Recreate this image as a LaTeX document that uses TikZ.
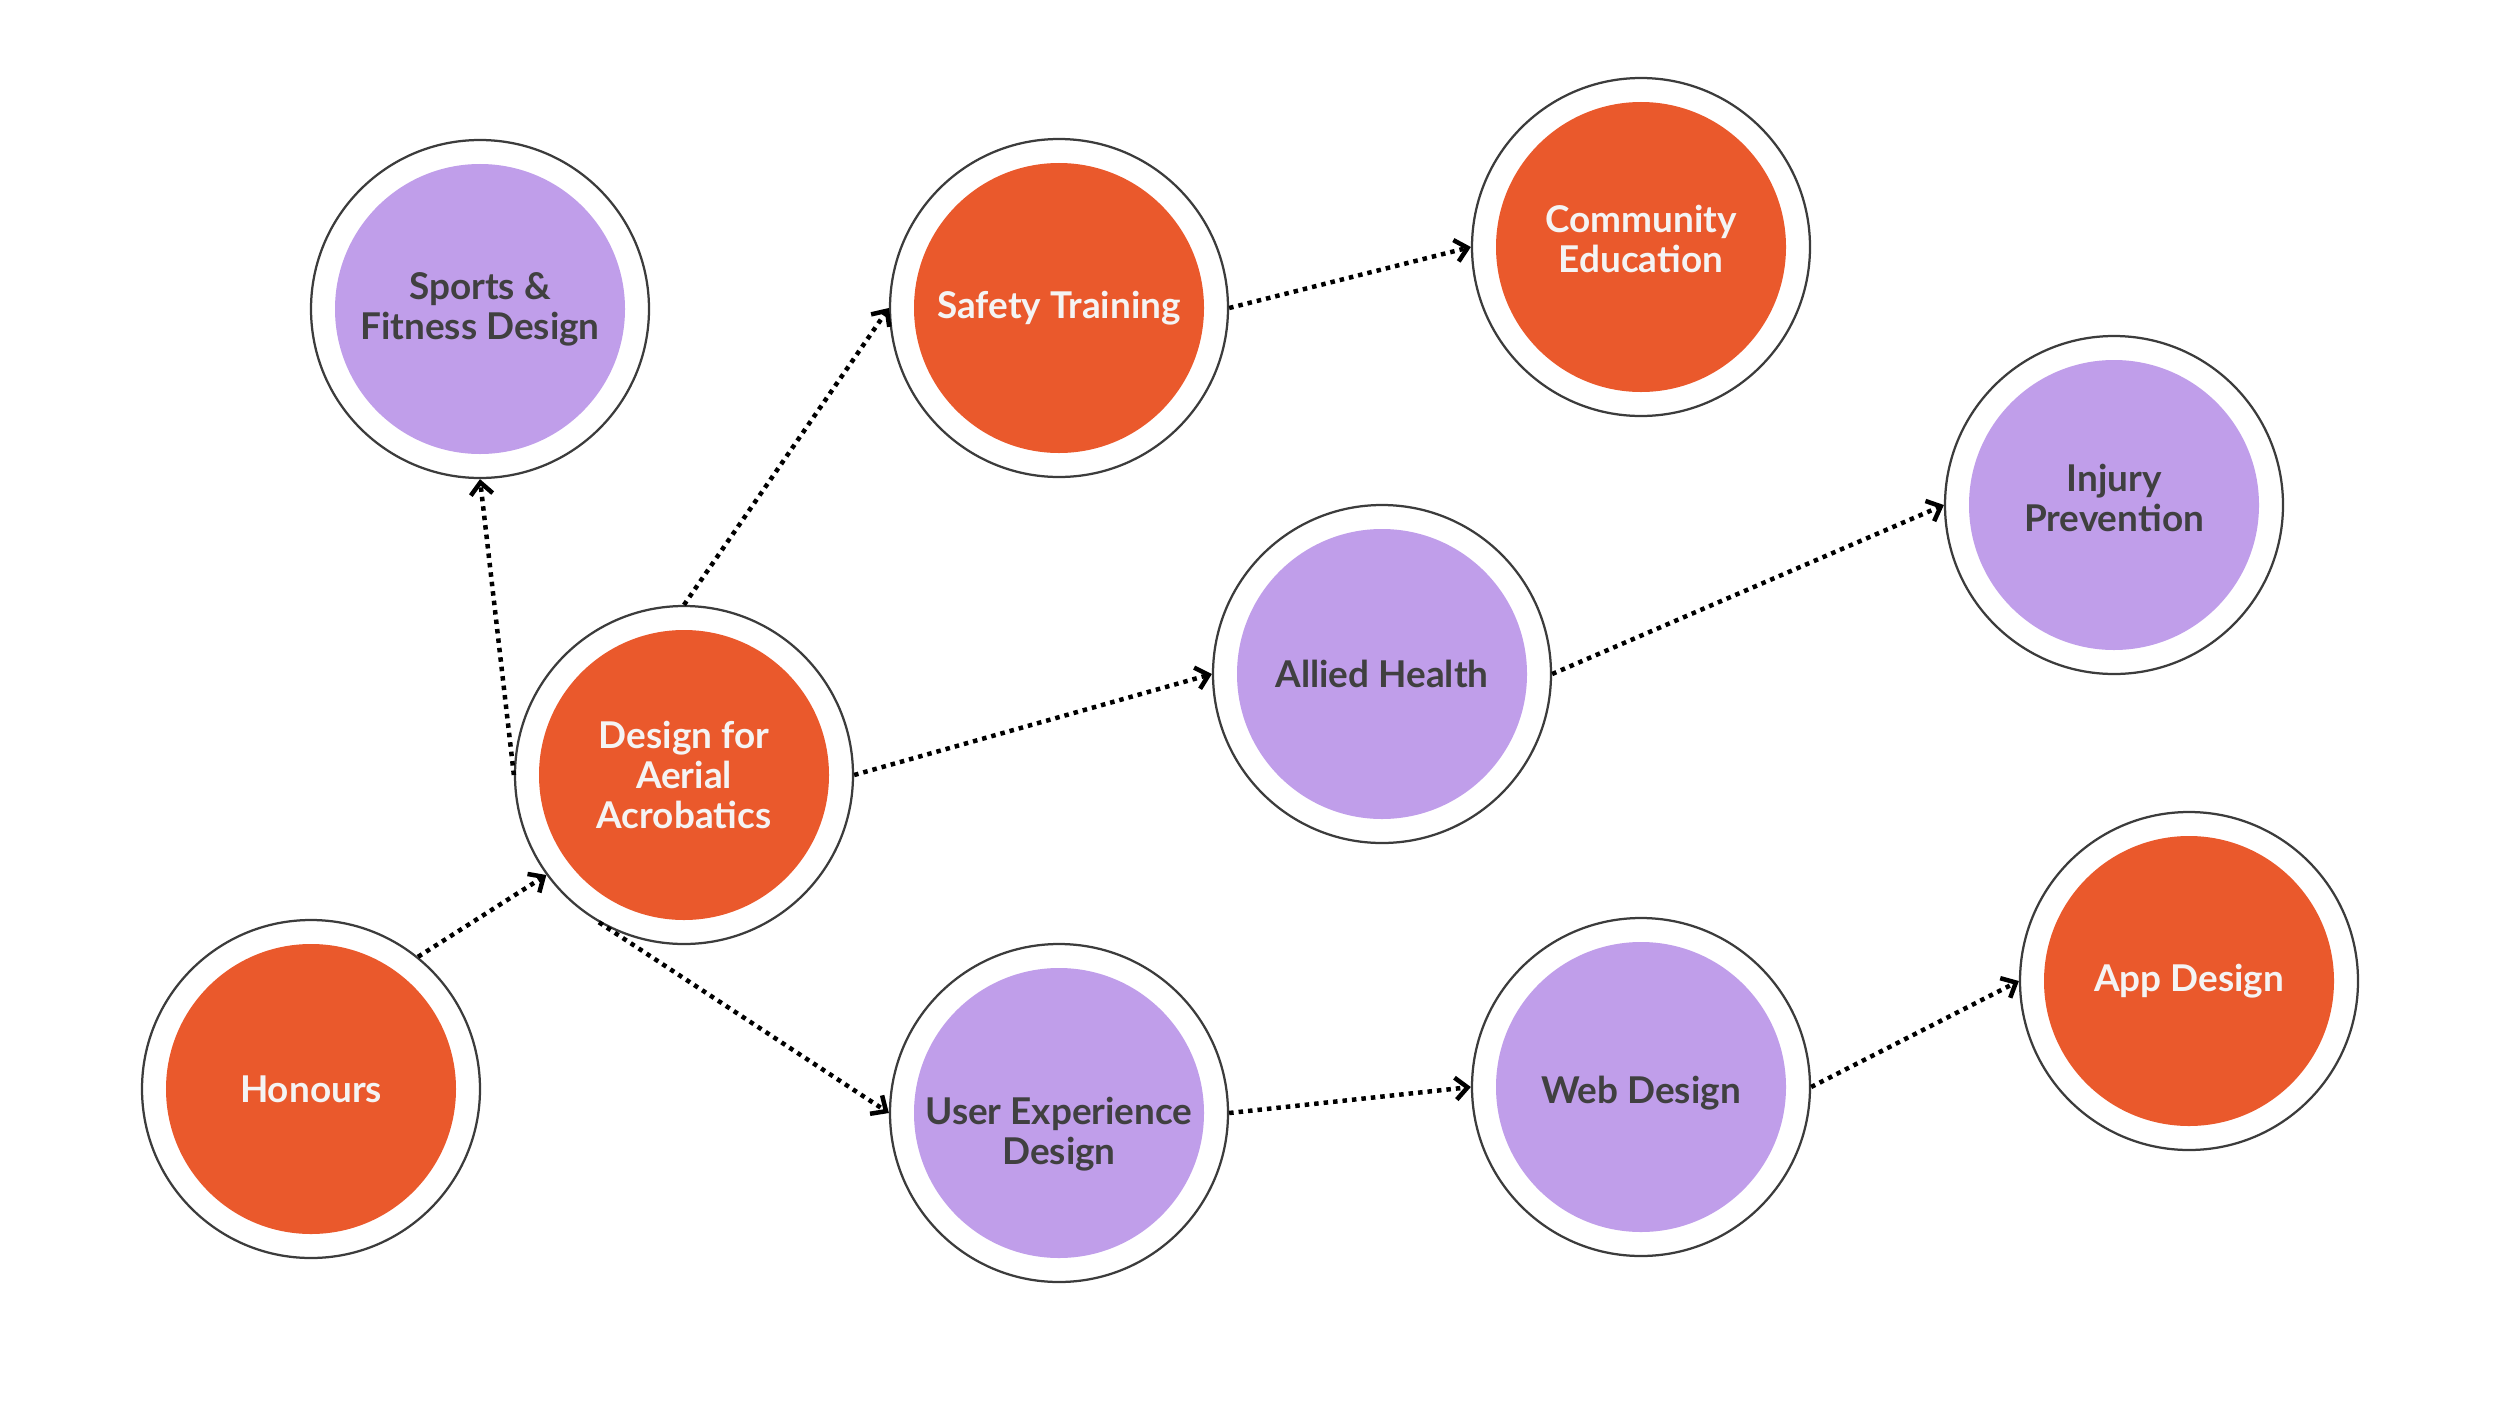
\documentclass[tikz,border=0pt]{standalone}
\usepackage{fontspec}
\setmainfont{Lato}
\usetikzlibrary{arrows.meta}
\definecolor{ringgray}{RGB}{60, 60, 60}
\definecolor{topicorange}{RGB}{234, 89, 44}
\definecolor{topicpurple}{RGB}{192, 158, 234}
\definecolor{labelgray}{RGB}{64, 64, 64}
\definecolor{labelwhite}{RGB}{244, 244, 244}

\begin{document}
\begin{tikzpicture}[x=0.2mm, y=-0.2mm,
  ring/.style={circle, draw=ringgray, line width=0.45mm, fill=white,
    minimum size=67.6mm, inner sep=0pt},
  orangering/.style={ring,
    path picture={\fill[topicorange] (path picture bounding box.center) circle (29mm);}},
  purplering/.style={ring,
    path picture={\fill[topicpurple] (path picture bounding box.center) circle (29mm);}},
  topictext/.style={align=center, inner sep=0pt,
    font=\fontsize{21}{22.7}\selectfont\bfseries},
  orangetext/.style={topictext, text=labelwhite},
  purpletext/.style={topictext, text=labelgray},
  link/.style={line width=0.9mm, dash pattern=on 0.9mm off 1.0mm,
    -{Straight Barb[length=2.4mm, width=4.4mm]}}]

  \useasboundingbox (0, 0) rectangle (2500, 1406);

  % --- Topics ---
  \node[purplering, label={[purpletext]center:Sports \&\\Fitness Design}] (sports) at (480, 309) {};
  \node[orangering, label={[orangetext]center:Safety Training}] (safety) at (1059, 308) {};
  \node[orangering, label={[orangetext, yshift=1.6mm]center:Community\\Education}] (community) at (1641, 247) {};
  \node[purplering, label={[purpletext, yshift=1.4mm]center:Injury\\Prevention}] (injury) at (2114, 505) {};
  \node[purplering, label={[purpletext]center:Allied Health}] (allied) at (1382, 674) {};
  \node[orangering, label={[orangetext]center:Design for\\Aerial\\Acrobatics}] (aerial) at (684, 775) {};
  \node[orangering, label={[orangetext]center:Honours}] (honours) at (311, 1089) {};
  \node[purplering, label={[purpletext, yshift=-4.2mm]center:User Experience\\Design}] (ux) at (1059, 1113) {};
  \node[purplering, label={[purpletext, yshift=-1.2mm]center:Web Design}] (web) at (1641, 1087) {};
  \node[orangering, label={[orangetext]center:App Design}] (app) at (2189, 981) {};

  % --- Pathways ---
  \draw[link] (honours.51) -- (aerial.216);
  \draw[link] (aerial.west) -- (sports.south);
  \draw[link] (aerial.north) -- (safety.west);
  \draw[link] (aerial.east) -- (allied.west);
  \draw[link] (aerial.240) -- (ux.west);
  \draw[link] (safety.east) -- (community.west);
  \draw[link] (allied.east) -- (injury.west);
  \draw[link] (ux.east) -- (web.west);
  \draw[link] (web.east) -- (app.west);

\end{tikzpicture}
\end{document}
